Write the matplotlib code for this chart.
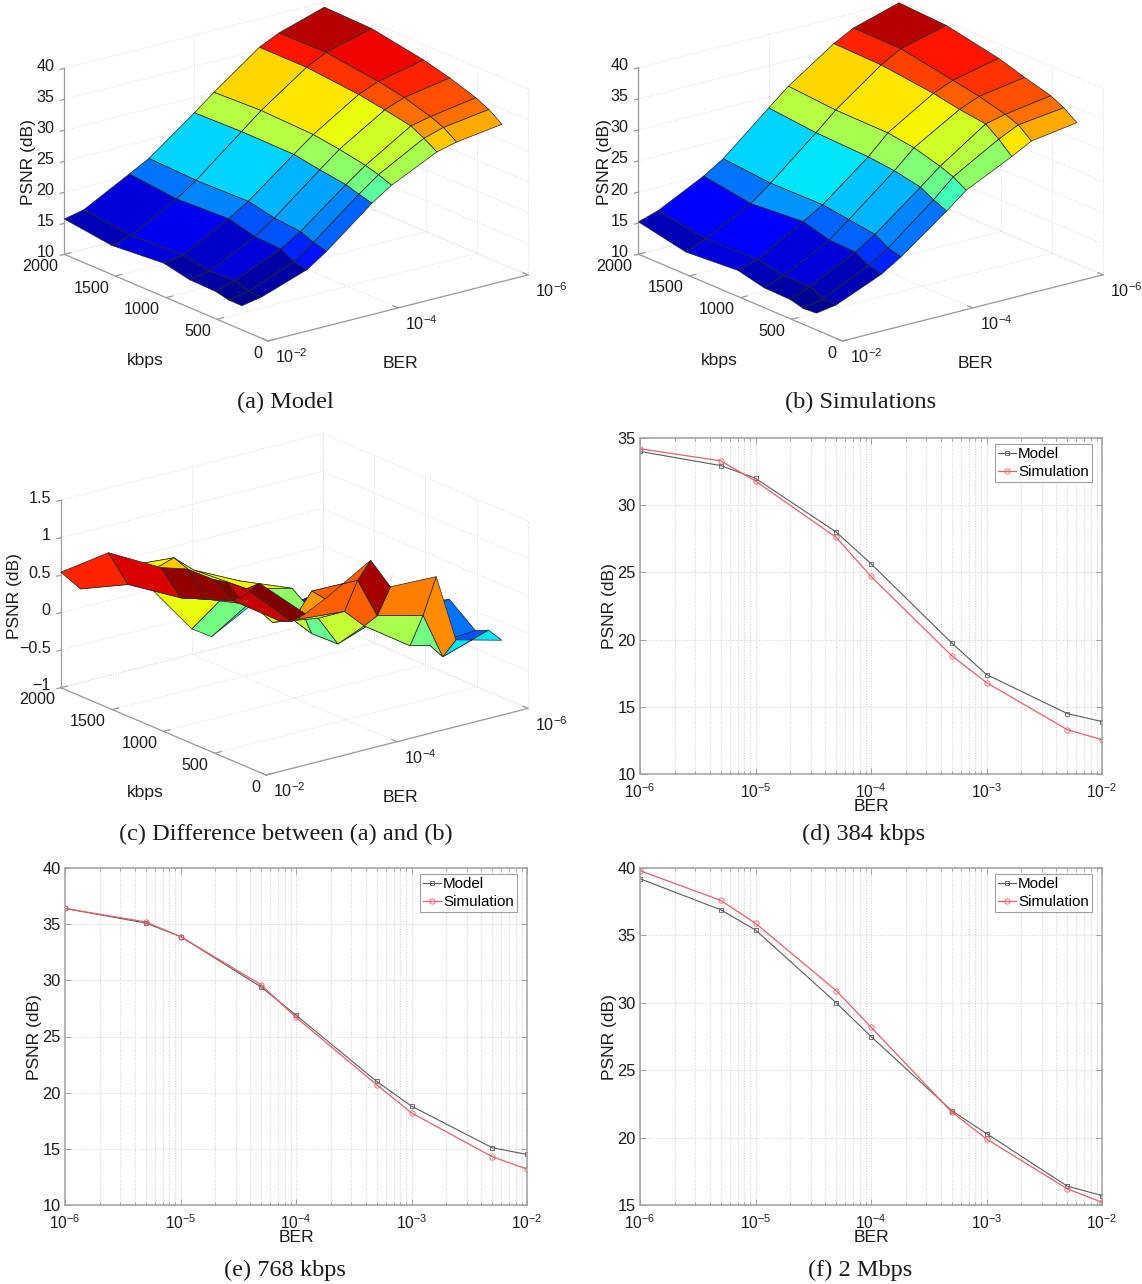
import numpy as np
import matplotlib
matplotlib.use("Agg")
import matplotlib.pyplot as plt
from mpl_toolkits.mplot3d import proj3d

W, H = 1142, 1284
plt.rcParams['font.family'] = ['Liberation Sans', 'DejaVu Sans']
plt.rcParams['mathtext.default'] = 'regular'
TEXT = '#1c1c1c'

# surface grid: rows follow kbps, columns follow BER
kbps_values = [256, 384, 512, 768, 1024, 1536, 2000]
ber_values = [1e-2, 5e-3, 1e-3, 5e-4, 1e-4, 5e-5, 1e-5, 5e-6, 1e-6]

model_psnr = [
    [13.9, 14.5, 17.05, 19.2, 25.1, 27.2, 30.7, 31.5, 32.5],
    [13.9, 14.5, 17.4, 19.75, 25.65, 28.0, 32.0, 32.95, 34.0],
    [14.4, 15.4, 18.6, 20.6, 26.3, 28.6, 33.1, 33.8, 35.0],
    [14.5, 15.1, 18.8, 21.0, 26.9, 29.4, 33.9, 35.1, 36.4],
    [15.4, 15.9, 19.9, 21.9, 27.6, 30.0, 34.6, 35.9, 37.5],
    [14.7, 15.5, 19.5, 21.7, 27.7, 30.3, 35.4, 37.0, 39.0],
    [15.7, 16.4, 20.3, 22.0, 27.5, 30.0, 35.4, 36.9, 39.2],
]
sim_psnr = [
    [12.7, 13.2, 16.3, 18.3, 23.8, 26.35, 29.9, 31.6, 32.7],
    [12.55, 13.3, 16.8, 18.8, 24.7, 27.6, 31.8, 33.3, 34.2],
    [13.1, 14.4, 18.05, 20.1, 25.85, 28.4, 33.35, 34.1, 35.25],
    [13.2, 14.3, 18.2, 20.7, 26.7, 29.6, 33.9, 35.2, 36.4],
    [14.2, 15.2, 19.4, 21.3, 27.15, 30.2, 34.7, 36.0, 37.7],
    [13.6, 14.9, 18.7, 21.2, 27.45, 30.3, 35.7, 37.5, 39.4],
    [15.2, 16.2, 19.9, 21.9, 28.2, 30.9, 35.9, 37.6, 39.8],
]
diff_psnr = [
    [1.2, 1.34, 0.78, 0.91, 1.27, 0.85, 0.83, -0.08, -0.24],
    [1.35, 1.19, 0.6, 0.94, 0.93, 0.39, 0.24, -0.38, -0.18],
    [1.31, 0.96, 0.54, 0.49, 0.44, 0.18, -0.24, -0.3, -0.26],
    [1.3, 0.83, 0.6, 0.3, 0.2, -0.21, 0.01, -0.1, 0.01],
    [1.17, 0.7, 0.51, 0.6, 0.45, -0.22, -0.1, -0.1, -0.2],
    [1.07, 0.58, 0.78, 0.55, 0.25, 0.0, -0.3, -0.5, -0.4],
    [0.54, 0.25, 0.4, 0.1, -0.66, -0.83, -0.5, -0.7, -0.6],
]

kbps_ticks = [0, 500, 1000, 1500, 2000]
ber_exp_ticks = [2, 4, 6]
z_ticks_psnr = [10, 15, 20, 25, 30, 35, 40]
z_ticks_diff = [-1, -0.5, 0, 0.5, 1, 1.5]
z_labels_diff = ['\u22121', '\u22120.5', '0', '0.5', '1', '1.5']

fig = plt.figure(figsize=(W / 100, H / 100), dpi=100)
jet = plt.get_cmap('jet', 64)


def fig_text(x, y, s, **kw):
    return fig.text(x / W, 1 - y / H, s, color=TEXT, **kw)


def to_2d(ax, x, y, z):
    xp, yp, _ = proj3d.proj_transform(x, y, z, ax.get_proj())
    return xp, yp


def fit_axes(ax, zmin, corner_b, corner_c):
    # scale and move the axes so two floor corners land on given pixels
    ax.apply_aspect()
    fb = ax.transLimits.transform(to_2d(ax, 2, 0, zmin))
    fc = ax.transLimits.transform(to_2d(ax, 6, 0, zmin))
    side = (corner_c[0] - corner_b[0]) / (fc[0] - fb[0])
    left = corner_b[0] - side * fb[0]
    bottom = (H - corner_b[1]) - side * fb[1]
    ax.set_position([left / W, bottom / H, side / W, side / H])


def tick_label(ax, x, y, z, s, dx, dy, ha):
    ax.annotate(s, to_2d(ax, x, y, z), xytext=(dx, dy), textcoords='offset pixels',
                ha=ha, va='center', fontsize=11.6, color=TEXT, annotation_clip=False)


def surface_panel(Z, clim, corner_b, corner_c, zlim, zticks, zlabels, kbps_xy, ber_xy, psnr_xy, caption, cap_xy):
    ax = fig.add_axes([0, 0, 0.4, 0.4], projection='3d', proj_type='ortho', computed_zorder=False)
    ax.view_init(elev=19.2, azim=232.3)
    ax.set_box_aspect((328.6, 333, 197))
    ax.set_xlim(2, 6)
    ax.set_ylim(0, 2000)
    ax.set_zlim(*zlim)
    ax.set_axis_off()
    ax.patch.set_visible(False)
    fit_axes(ax, zlim[0], corner_b, corner_c)

    # dotted grid on floor and the two back walls
    grid = dict(color='#dadada', lw=0.7, ls=':', zorder=1)
    for e in ber_exp_ticks:
        ax.plot([e, e], [0, 2000], [zlim[0], zlim[0]], **grid)
        ax.plot([e, e], [2000, 2000], zlim, **grid)
    for k in kbps_ticks:
        ax.plot([2, 6], [k, k], [zlim[0], zlim[0]], **grid)
        ax.plot([6, 6], [k, k], zlim, **grid)
    for z in zticks:
        ax.plot([2, 6], [2000, 2000], [z, z], **grid)
        ax.plot([6, 6], [0, 2000], [z, z], **grid)

    # axis lines and ticks
    line = dict(color='#9a9a9a', lw=0.9, zorder=2)
    ax.plot([2, 2], [2000, 2000], zlim, **line)
    ax.plot([2, 2], [0, 2000], [zlim[0], zlim[0]], **line)
    ax.plot([2, 6], [0, 0], [zlim[0], zlim[0]], **line)
    for z, s in zip(zticks, zlabels):
        ax.plot([1.94, 2], [2000, 2000], [z, z], **line)
        tick_label(ax, 2, 2000, z, s, -10, 2, 'right')
    for k in kbps_ticks:
        ax.plot([2, 2.1], [k, k], [zlim[0], zlim[0]], **line)
        tick_label(ax, 2, k, zlim[0], str(k), -6, -12, 'right')
    for e in ber_exp_ticks:
        ax.plot([e, e], [0, 50], [zlim[0], zlim[0]], **line)
        tick_label(ax, e, 0, zlim[0], '$10^{-%d}$' % e, 7, -16, 'left')

    Z = np.array(Z)
    X, Y = np.meshgrid(-np.log10(ber_values), kbps_values)
    norm = plt.Normalize(*clim)
    ax.plot_surface(X, Y, Z, rstride=1, cstride=1, facecolors=jet(norm(Z)), shade=False,
                    edgecolor='#262626', linewidth=0.5, antialiased=True, zorder=5)

    fig_text(*kbps_xy, 'kbps', fontsize=12.6, ha='center', va='center')
    fig_text(*ber_xy, 'BER', fontsize=12.6, ha='center', va='center')
    fig_text(*psnr_xy, 'PSNR (dB)', fontsize=12.6, ha='center', va='center', rotation=90)
    fig_text(*cap_xy, caption, fontsize=17.6, ha='center', va='center', family='Liberation Serif')


def line_panel(row, box, ylim, yticks, caption, cap_xy):
    left, right, top, bottom = box
    ax = fig.add_axes([left / W, 1 - bottom / H, (right - left) / W, (bottom - top) / H])
    ax.semilogx(ber_values, model_psnr[row], '-s', color='#5c5c5c', lw=0.8, ms=3.2, mfc='none', mew=0.6, label='Model')
    ax.semilogx(ber_values, sim_psnr[row], '-o', color='#e8606a', lw=0.9, ms=3.8, mfc='none', mew=0.6, label='Simulation')
    ax.set_xlim(1e-6, 1e-2)
    ax.set_ylim(*ylim)
    ax.set_yticks(yticks)
    ax.set_xticks([1e-6, 1e-5, 1e-4, 1e-3, 1e-2])
    ax.set_xticklabels(['$10^{-%d}$' % e for e in [6, 5, 4, 3, 2]], fontsize=11.2)
    ax.grid(True, which='major', axis='y', color='#d2d2d2', lw=0.7, ls=':')
    ax.grid(True, which='both', axis='x', color='#cccccc', lw=0.7, ls=':')
    ax.tick_params(which='both', direction='in', top=True, right=True, color='#a0a0a0', labelcolor=TEXT, width=0.7)
    ax.tick_params(axis='y', which='major', length=4, pad=3, labelsize=11.8)
    ax.tick_params(axis='x', which='major', length=4, pad=6)
    ax.tick_params(which='minor', length=2)
    ax.tick_params(axis='x', which='minor', labelbottom=False)
    for spine in ax.spines.values():
        spine.set_color('#a0a0a0')
        spine.set_linewidth(1.1)
    ax.set_xlabel('BER', fontsize=12.6, color=TEXT, labelpad=-1.5)
    ax.set_ylabel('PSNR (dB)', fontsize=12.6, color=TEXT, labelpad=0)
    ax.legend(loc='upper right', fontsize=10.9, fancybox=False, framealpha=1, edgecolor='#a0a0a0',
              bbox_to_anchor=(0.978, 0.982), borderaxespad=0, handlelength=1.15, labelspacing=0.25,
              handletextpad=0.15, borderpad=0.2).get_frame().set_linewidth(0.8)
    fig_text(*cap_xy, caption, fontsize=17.6, ha='center', va='center', family='Liberation Serif')


surface_panel(model_psnr, (13.4, 38.4), (268, 341), (528, 275), (10, 40), z_ticks_psnr, [str(t) for t in z_ticks_psnr],
              (145, 360), (400, 364), (28, 162), '(a) Model', (285, 402))
surface_panel(sim_psnr, (11.9, 39.2), (842.5, 341), (1103, 275), (10, 40), z_ticks_psnr, [str(t) for t in z_ticks_psnr],
              (719, 360), (975, 364), (604, 162), '(b) Simulations', (861, 402))
surface_panel(diff_psnr, (-0.83, 1.35), (266, 775), (528, 709), (-1, 1.5), z_ticks_diff, z_labels_diff,
              (145, 793), (400, 797), (15, 596), '(c) Difference between (a) and (b)', (286, 834))

line_panel(1, (640, 1102, 438, 774), (10, 35), [10, 15, 20, 25, 30, 35], '(d) 384 kbps', (864, 834))
line_panel(3, (65, 527, 868, 1205), (10, 40), [10, 15, 20, 25, 30, 35, 40], '(e) 768 kbps', (285, 1270))
line_panel(6, (640, 1102, 868, 1205), (15, 40), [15, 20, 25, 30, 35, 40], '(f) 2 Mbps', (860, 1270))

fig.savefig('out.png', dpi=100)
